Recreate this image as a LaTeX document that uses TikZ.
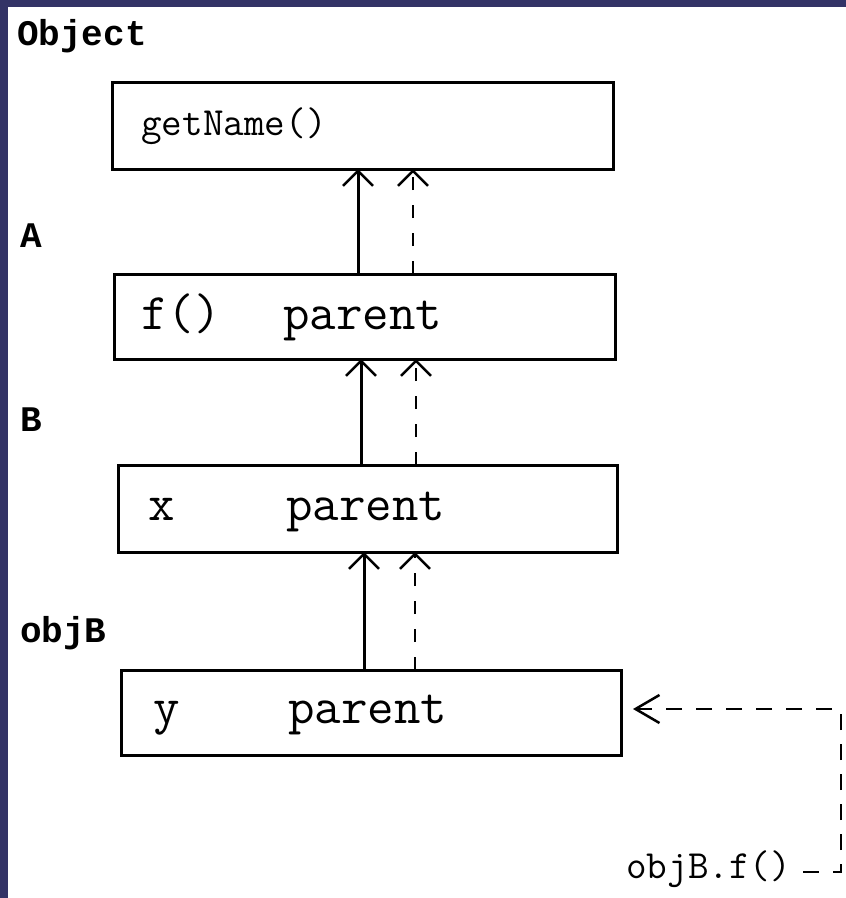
\documentclass[tikz,border=0pt]{standalone}
\usepackage{fontspec}
\newfontfamily\lblfont{Liberation Mono}
\usetikzlibrary{arrows.meta}
\definecolor{navy}{RGB}{51,51,102}
\begin{document}
\begin{tikzpicture}[x=1pt,y=-1pt,
  box/.style={draw=black, line width=3pt, inner sep=0pt, outer sep=0pt},
  boxtext/.style={anchor=base west, inner sep=0pt, font=\ttfamily\fontsize{51.4}{51.4}\selectfont},
  smalltext/.style={anchor=base west, inner sep=0pt, font=\ttfamily\fontsize{40}{40}\selectfont},
  lbl/.style={anchor=base west, inner sep=0pt, font=\lblfont\bfseries\fontsize{36}{36}\selectfont},
  solidarr/.style={line width=3pt, -{Straight Barb[length=15pt,width=30pt,line width=2.5pt]}},
  dasharr/.style={line width=2.5pt, dash pattern=on 13pt off 15pt, -{Straight Barb[length=15pt,width=30pt,line width=2.5pt]}},
  callarr/.style={line width=2.5pt, dash pattern=on 16pt off 14pt, -{Straight Barb[length=24pt,width=28pt,line width=2.5pt]}}]
\useasboundingbox (0,0) rectangle (846,898);
\fill[navy] (0,0) rectangle (846,898);
\fill[white] (8,7) rectangle (846,898);

% labels
\node[lbl] (lobject) at (17,45) {Object};
\node[lbl] (la) at (20,247) {A};
\node[lbl] (lb) at (20,431) {B};
\node[lbl] (lobjb) at (20,642) {objB};

% boxes
\node[box, minimum width=501pt, minimum height=87pt] (b1) at (362.5,125.5) {};
\node[box, minimum width=501pt, minimum height=85pt] (b2) at (364.5,316.5) {};
\node[box, minimum width=499pt, minimum height=87pt] (b3) at (367.5,508.5) {};
\node[box, minimum width=500pt, minimum height=85pt] (b4) at (371,712.5) {};

% box texts
\node[smalltext] (t1) at (141,135) {getName()};
\node[boxtext] (t2a) at (141,329) {f()};
\node[boxtext] (t2b) at (283,329) {parent};
\node[boxtext] (t3a) at (148,520) {x};
\node[boxtext] (t3b) at (286,520) {parent};
\node[boxtext] (t4a) at (153,723) {y};
\node[boxtext] (t4b) at (288,723) {parent};

% inheritance arrows
\coordinate (s1) at ([xshift=244pt]b2.north west);
\coordinate (d1) at ([xshift=299pt]b2.north west);
\coordinate (s2) at ([xshift=243pt]b3.north west);
\coordinate (d2) at ([xshift=298pt]b3.north west);
\coordinate (s3) at ([xshift=243pt]b4.north west);
\coordinate (d3) at ([xshift=294pt]b4.north west);
\draw[solidarr] (s1) -- (s1 |- b1.south);
\draw[dasharr] (d1) -- (d1 |- b1.south);
\draw[solidarr] (s2) -- (s2 |- b2.south);
\draw[dasharr] (d2) -- (d2 |- b2.south);
\draw[solidarr] (s3) -- (s3 |- b3.south);
\draw[dasharr] (d3) -- (d3 |- b3.south);

% call
\node[smalltext] (call) at (626,878) {objB.f()};
\coordinate (c0) at (803,872);
\coordinate (c1) at (841,872);
\coordinate (c2) at (841,709);
\coordinate (cend) at ([xshift=12pt,yshift=3.5pt]b4.east);
\draw[callarr] (c0) -- (c1) -- (c2) -- (cend);
\end{tikzpicture}
\end{document}
